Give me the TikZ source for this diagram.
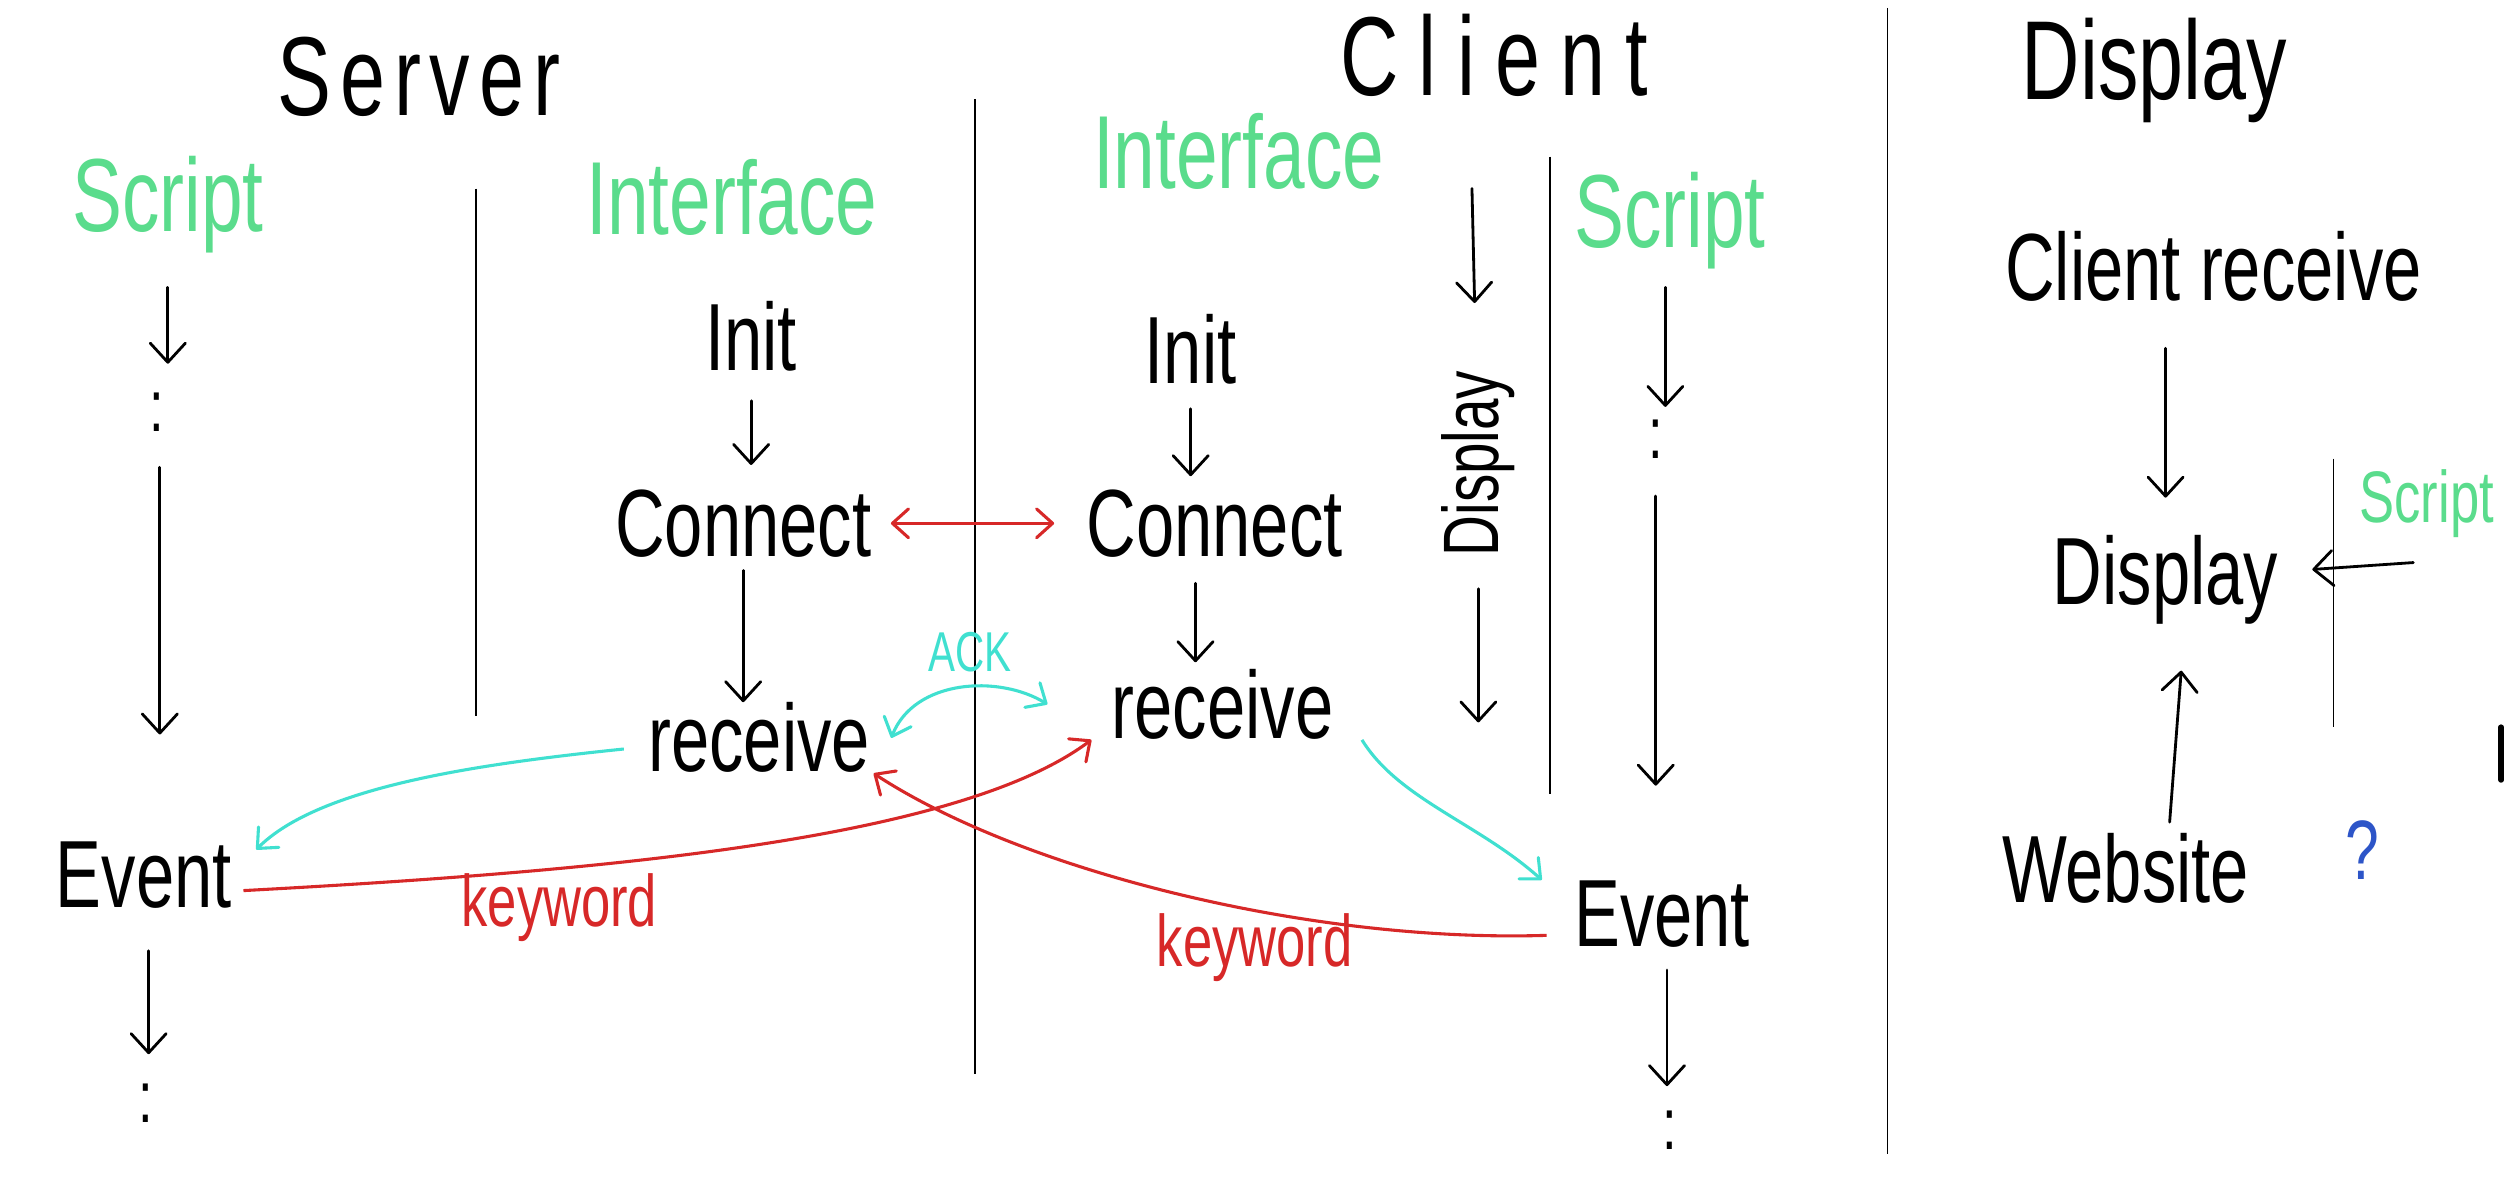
\documentclass[tikz,border=0pt]{standalone}
\usepackage{fontspec}
\setmainfont{Liberation Sans}[FakeStretch=0.72]
\usetikzlibrary{arrows.meta}
\definecolor{lanegreen}{RGB}{90,220,140}
\definecolor{ackcyan}{RGB}{64,224,208}
\definecolor{kwred}{RGB}{215,40,40}
\definecolor{askblue}{RGB}{45,85,200}

\begin{document}
\begin{tikzpicture}[
  x=0.02cm, y=-0.02cm,
  heading/.style={anchor=base,inner sep=0pt,font=\fontsize{40}{44}\selectfont},
  lane/.style={anchor=base,inner sep=0pt,text=lanegreen,font=\fontsize{37}{40}\selectfont},
  word/.style={anchor=base,inner sep=0pt,font=\fontsize{34}{38}\selectfont},
  ellip/.style={inner sep=0pt,font=\fontsize{26}{30}\selectfont},
  kw/.style={anchor=base,inner sep=0pt,text=kwred,font=\fontsize{26}{30}\selectfont},
  arr/.style={-{Straight Barb[length=2.4mm,width=4.4mm,round]},line width=1pt,line cap=round},
  divider/.style={line width=0.6pt},
  ackarr/.style={-{Straight Barb[length=2mm,width=3.6mm,round]},ackcyan,line width=1.1pt},
  ackboth/.style={{Straight Barb[length=2mm,width=3.6mm,round]}-{Straight Barb[length=2mm,width=3.6mm,round]},ackcyan,line width=1.1pt},
  kwarr/.style={-{Straight Barb[length=2mm,width=3.6mm,round]},kwred,line width=1.1pt},
  kwboth/.style={{Straight Barb[length=2mm,width=3.6mm,round]}-{Straight Barb[length=2mm,width=3.6mm,round]},kwred,line width=1.1pt}
]
\useasboundingbox[fill=white] (0,0) rectangle (1568,753);

\node[heading] (server) at (262,72) {\addfontfeature{LetterSpace=8}Server};
\node[heading] (client) at (935,60) {\addfontfeature{LetterSpace=18}Client};
\node[heading] (display) at (1348,62) {Display};

\node[lane] (sscript) at (105,145) {Script};
\node[lane] (sifc) at (458,147) {Interface};
\node[lane] (cifc) at (775,118) {Interface};
\node[lane] (cscript) at (1045,155) {Script};

\node[word] (sinit) at (470,232) {Init};
\node[word] (sconn) at (465,348) {Connect};
\node[word] (srecv) at (475,483) {receive};
\node[word] (sevent) at (90,568) {Event};
\node[ellip] (sdots1) at (98,258) {:};
\node[ellip] (sdots2) at (91,690) {:};

\node[word] (cinit) at (745,240) {Init};
\node[word] (cconn) at (760,348) {Connect};
\node[word] (crecv) at (765,462) {receive};
\node[word] (cevent) at (1040,592) {Event};
\node[ellip] (cdots1) at (1036,275) {:};
\node[ellip] (cdots2) at (1045,707) {:};
\node[inner sep=0pt,rotate=90,font=\fontsize{28}{30}\selectfont] (cdisp) at (925,290) {Display};
\coordinate (cdtop) at (921,118);
\coordinate (cdbot) at (925,452);

\node[word] (dcrecv) at (1385,188) {Client receive};
\node[word] (ddisp) at (1355,378) {Display};
\node[word] (dweb) at (1330,565) {Website};
\node[lane,anchor=base west,font=\fontsize{26}{30}\selectfont] (dscript) at (1476,327) {Script};
\node[anchor=base,inner sep=0pt,text=askblue,font=\fontsize{30}{34}\selectfont] (ask) at (1478,550) {?};
\coordinate (dsrc) at (1510,352);

\draw[divider] (298,118) -- (298,448);
\draw[divider] (610,62) -- (610,672);
\draw[divider] (970,98) -- (970,497);
\draw[divider] (1181,5) -- (1181,722);
\draw[divider] (1460,287) -- (1460,455);
\draw[line width=2pt,line cap=round] (1565,455) -- (1565,488);

\draw[arr,shorten <=0.42cm,shorten >=0.36cm] (sscript.south) -- (sscript.south |- sdots1.north);
\draw[arr,shorten <=0.44cm,shorten >=1.34cm] ([xshift=0.04cm]sdots1.south) -- ([xshift=0.04cm]sdots1.south |- sevent.north);
\draw[arr,shorten <=0.52cm,shorten >=0.36cm] ([xshift=0.06cm]sevent.south) -- ([xshift=0.06cm]sevent.south |- sdots2.north);
\draw[arr,shorten <=0.36cm,shorten >=0.3cm] (sinit.south) -- (sinit.south |- sconn.north);
\draw[arr,shorten <=0.16cm] (sconn.south) -- (sconn.south |- srecv.north);

\draw[arr,shorten <=0.3cm,shorten >=0.16cm] (cinit.south) -- (cinit.south |- cconn.north);
\draw[arr,shorten <=0.32cm,shorten >=0.08cm] ([xshift=-0.24cm]cconn.south) -- ([xshift=-0.24cm]cconn.south |- crecv.north);
\draw[arr,shorten <=0.22cm,shorten >=0.16cm] ([xshift=-0.06cm]cscript.south) -- ([xshift=-0.06cm]cscript.south |- cdots1.north);
\draw[arr,shorten <=0.46cm,shorten >=1.18cm] (cdots1.south) -- (cdots1.south |- cevent.north);
\draw[arr,shorten <=0.28cm,shorten >=0.3cm] ([xshift=0.06cm]cevent.south) -- ([xshift=0.06cm]cevent.south |- cdots2.north);
\draw[arr,shorten >=0.84cm] (cdtop) -- (cdisp);
\draw[arr,shorten <=0.4cm] (cdisp) -- (cdbot);

\draw[arr,shorten <=0.58cm,shorten >=0.46cm] (ddisp.north |- dcrecv.south) -- (ddisp.north);
\draw[arr,shorten <=0.14cm,shorten >=0.58cm] ([xshift=0.54cm]dweb.north) -- ([xshift=0.24cm]ddisp.south);
\draw[arr,shorten >=0.42cm] (dsrc) -- (ddisp);

\draw[kwboth] ([xshift=0.24cm]sconn.east) -- ([xshift=-0.4cm]cconn.west);
\draw[ackboth] ([xshift=0.26cm]srecv.east) .. controls (572,425) and (625,422) .. ([xshift=-0.8cm]crecv.west);
\node[anchor=base,inner sep=0pt,text=ackcyan,font=\fontsize{20}{24}\selectfont] (ack) at (607,420) {ACK};
\draw[ackarr] ([xshift=-0.3cm,yshift=-0.14cm]srecv.west) .. controls (300,478) and (200,492) .. ([xshift=0.3cm,yshift=-0.1cm]sevent.north east);
\draw[kwarr] ([xshift=0.14cm,yshift=-0.19cm]sevent.east) .. controls (380,545) and (600,525) .. ([xshift=-0.25cm]crecv.south west);
\node[kw] (kw1) at (350,580) {keyword};
\draw[ackarr] ([xshift=0.35cm]crecv.south east) .. controls (875,500) and (925,515) .. ([xshift=-0.4cm]cevent.north west);
\draw[kwarr] ([xshift=-0.34cm,yshift=-0.27cm]cevent.west) .. controls (820,590) and (640,545) .. ([xshift=0.04cm]srecv.south east);
\node[kw] (kw2) at (785,605) {keyword};
\end{tikzpicture}
\end{document}
